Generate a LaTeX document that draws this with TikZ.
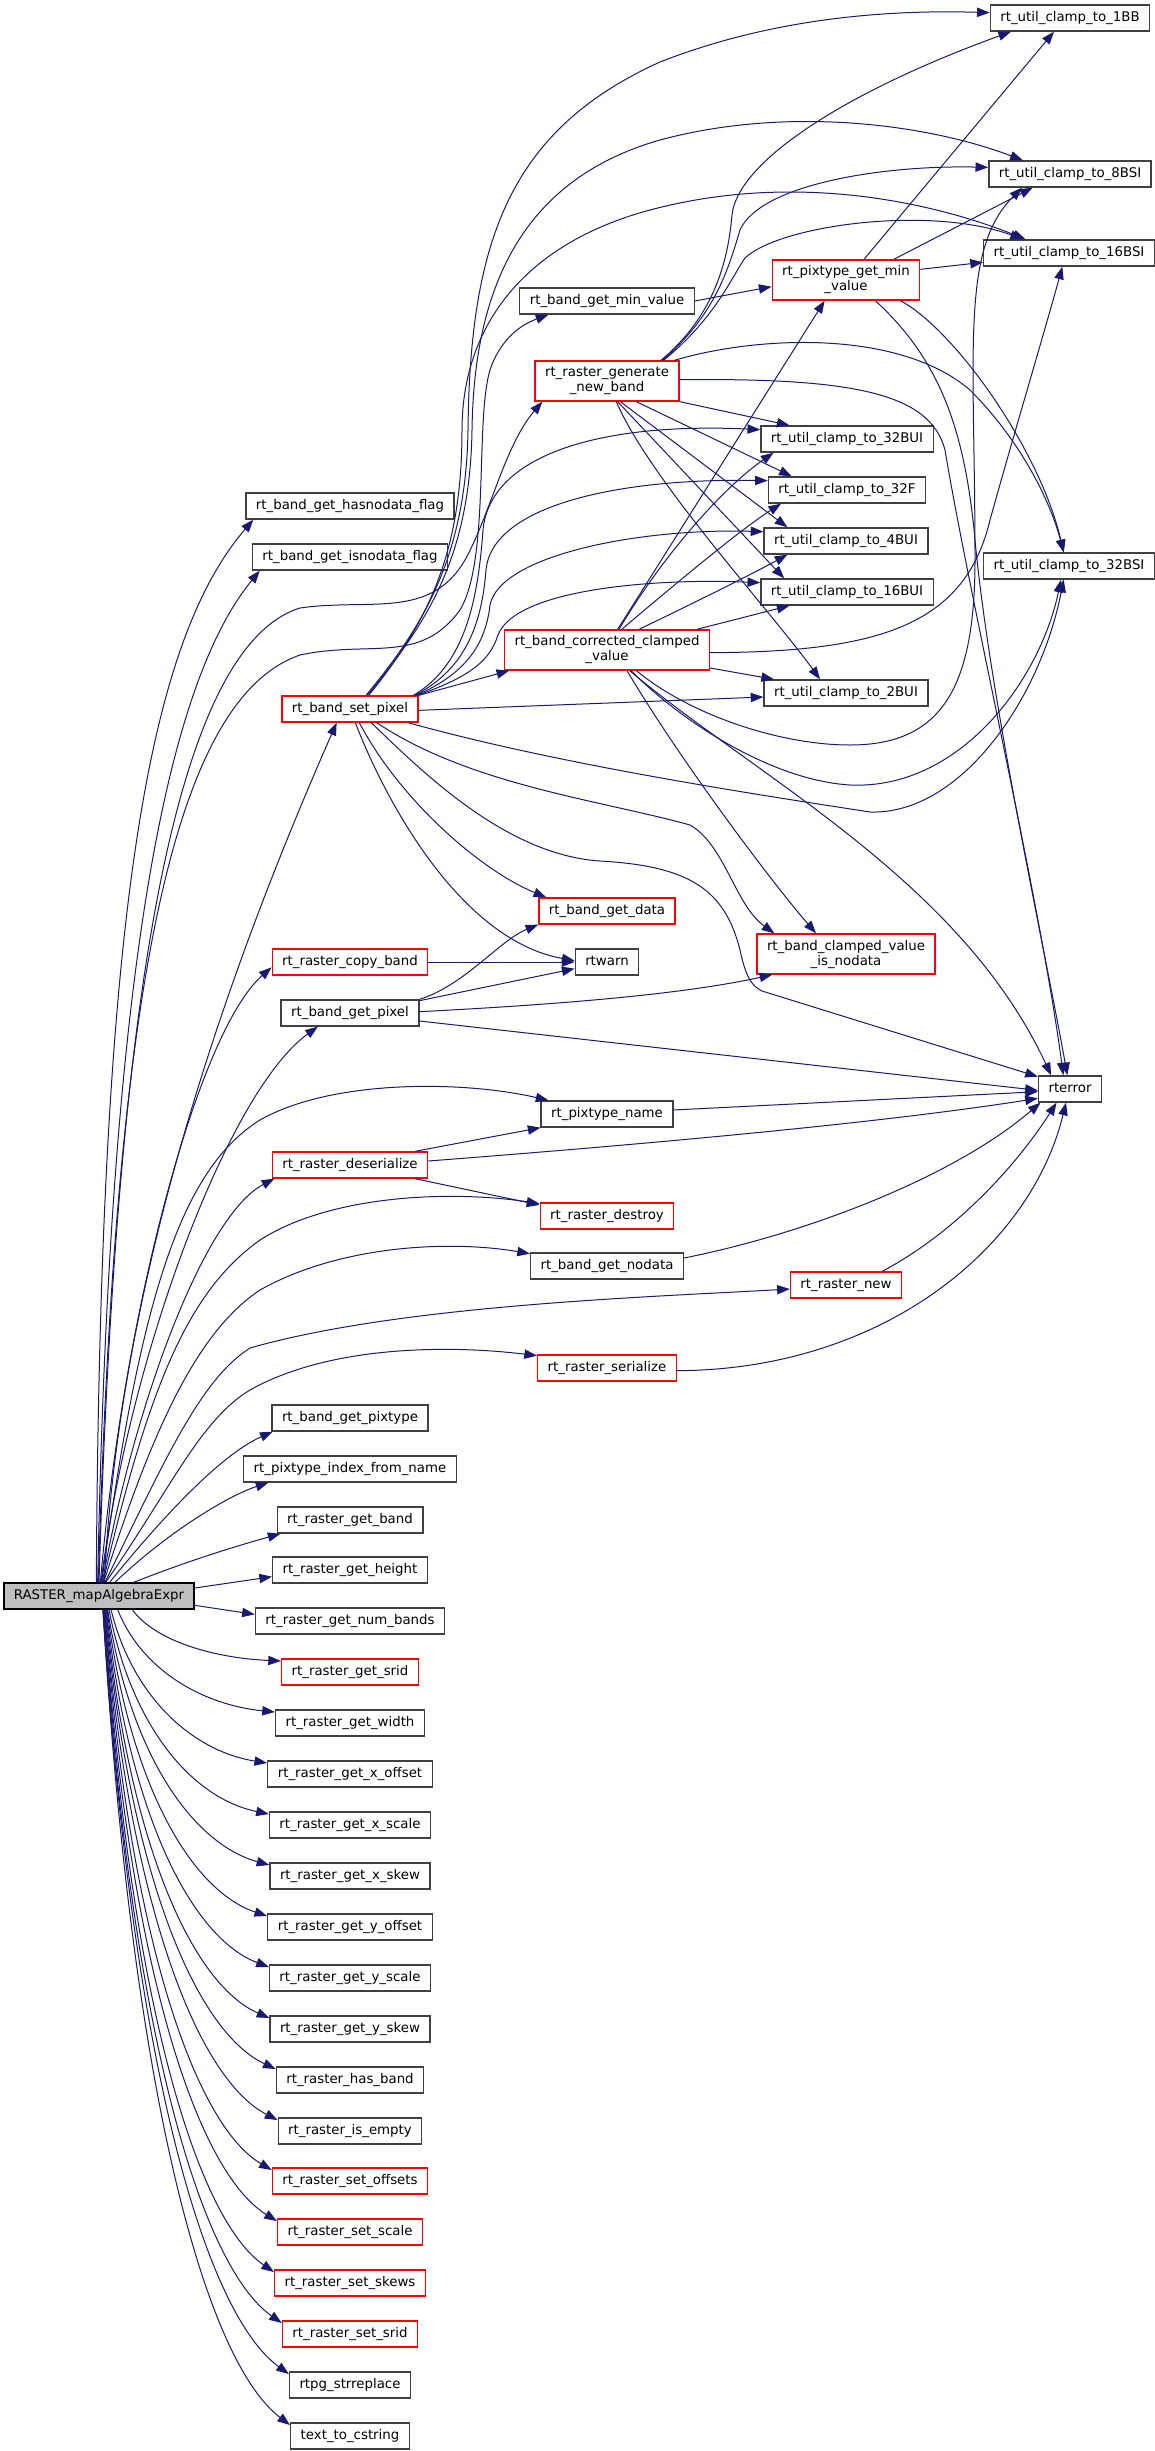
\documentclass[tikz,border=0pt]{standalone}
\usepackage{fontspec}
\setmainfont{DejaVu Sans}
\usetikzlibrary{arrows.meta}
\definecolor{callblue}{HTML}{191970}
\definecolor{boxgrey}{HTML}{404040}
\definecolor{rootgrey}{HTML}{BFBFBF}

\begin{document}
\begin{tikzpicture}[x=0.75pt,y=-0.75pt,
  box/.style={draw=boxgrey,line width=1pt,fill=white,inner xsep=7.5pt,inner ysep=0pt,font=\fontsize{10pt}{11.25pt}\selectfont},
  fn/.style={box,minimum height=19.5pt,text height=7.6pt,text depth=2.4pt},
  fnred/.style={fn,draw=red},
  fntwo/.style={box,draw=red,align=center,minimum height=30pt},
  root/.style={fn,draw=black,fill=rootgrey},
  call/.style={draw=callblue,line width=0.75pt,-{Triangle[length=9.5pt,width=7pt]}}]
    \path[use as bounding box,fill=white] (0,0) rectangle (1155,2451);
    \node[fn] (c1bb) at (1070,18) {rt\_util\_clamp\_to\_1BB};
    \node[fn] (c8bsi) at (1070,174) {rt\_util\_clamp\_to\_8BSI};
    \node[fn] (c16bsi) at (1069,253) {rt\_util\_clamp\_to\_16BSI};
    \node[fntwo] (ptmin) at (846,280) {rt\_pixtype\_get\_min\\\_value};
    \node[fn] (minval) at (607,301) {rt\_band\_get\_min\_value};
    \node[fntwo] (gennew) at (607,381) {rt\_raster\_generate\\\_new\_band};
    \node[fn] (c32bui) at (847,439) {rt\_util\_clamp\_to\_32BUI};
    \node[fn] (c32f) at (847,490) {rt\_util\_clamp\_to\_32F};
    \node[fn] (c4bui) at (846,541) {rt\_util\_clamp\_to\_4BUI};
    \node[fn] (c32bsi) at (1069,566) {rt\_util\_clamp\_to\_32BSI};
    \node[fn] (c16bui) at (847,592) {rt\_util\_clamp\_to\_16BUI};
    \node[fn] (hasnd) at (350,506) {rt\_band\_get\_hasnodata\_flag};
    \node[fn] (isnd) at (350,557) {rt\_band\_get\_isnodata\_flag};
    \node[fntwo] (corr) at (607,650) {rt\_band\_corrected\_clamped\\\_value};
    \node[fn] (c2bui) at (846,693) {rt\_util\_clamp\_to\_2BUI};
    \node[fnred] (setpix) at (350,709) {rt\_band\_set\_pixel};
    \node[fnred] (getdata) at (607,911) {rt\_band\_get\_data};
    \node[fntwo] (clampnd) at (846,954) {rt\_band\_clamped\_value\\\_is\_nodata};
    \node[fnred] (copyb) at (350,962) {rt\_raster\_copy\_band};
    \node[fn] (rtwarn) at (607,962) {rtwarn};
    \node[fn] (getpix) at (350,1013) {rt\_band\_get\_pixel};
    \node[fn] (rterror) at (1070,1089) {rterror};
    \node[fn] (ptname) at (607,1114) {rt\_pixtype\_name};
    \node[fnred] (deser) at (350,1165) {rt\_raster\_deserialize};
    \node[fnred] (destroy) at (607,1216) {rt\_raster\_destroy};
    \node[fn] (getnodata) at (607,1266) {rt\_band\_get\_nodata};
    \node[fnred] (rnew) at (846,1285) {rt\_raster\_new};
    \node[fnred] (serial) at (607,1368) {rt\_raster\_serialize};
    \node[fn] (gptype) at (350,1418) {rt\_band\_get\_pixtype};
    \node[fn] (ptidx) at (350,1469) {rt\_pixtype\_index\_from\_name};
    \node[fn] (getband) at (350,1520) {rt\_raster\_get\_band};
    \node[fn] (geth) at (350,1570) {rt\_raster\_get\_height};
    \node[root] (R) at (99,1596) {RASTER\_mapAlgebraExpr};
    \node[fn] (nbands) at (350,1621) {rt\_raster\_get\_num\_bands};
    \node[fnred] (srid) at (350,1672) {rt\_raster\_get\_srid};
    \node[fn] (width) at (350,1723) {rt\_raster\_get\_width};
    \node[fn] (xoff) at (350,1774) {rt\_raster\_get\_x\_offset};
    \node[fn] (xscale) at (350,1825) {rt\_raster\_get\_x\_scale};
    \node[fn] (xskew) at (350,1876) {rt\_raster\_get\_x\_skew};
    \node[fn] (yoff) at (350,1927) {rt\_raster\_get\_y\_offset};
    \node[fn] (yscale) at (350,1978) {rt\_raster\_get\_y\_scale};
    \node[fn] (yskew) at (350,2029) {rt\_raster\_get\_y\_skew};
    \node[fn] (hasband) at (350,2080) {rt\_raster\_has\_band};
    \node[fn] (empty) at (350,2131) {rt\_raster\_is\_empty};
    \node[fnred] (setoff) at (350,2181) {rt\_raster\_set\_offsets};
    \node[fnred] (setscale) at (350,2232) {rt\_raster\_set\_scale};
    \node[fnred] (setskew) at (350,2283) {rt\_raster\_set\_skews};
    \node[fnred] (setsrid) at (350,2334) {rt\_raster\_set\_srid};
    \node[fn] (strrep) at (350,2385) {rtpg\_strreplace};
    \node[fn] (tocstr) at (350,2436) {text\_to\_cstring};

    \draw[call] ([xshift=-2pt]R.north) .. controls (100,900) and (150,640) .. ([xshift=6pt]hasnd.south west);
    \draw[call] ([xshift=-1pt]R.north) .. controls (110,950) and (170,680) .. ([xshift=6pt]isnd.south west);
    \draw[call] ([xshift=-0.5pt]R.north) .. controls (115,1000) and (170,700) .. (300,655) .. controls (370,640) and (420,665) .. (460,610) .. controls (490,560) and (475,420) .. (490,370) .. controls (500,340) and (520,325) .. ([xshift=22pt]minval.south west);
    \draw[call] (R.north) .. controls (115,1050) and (165,650) .. (300,608) .. controls (370,598) and (430,620) .. (465,560) .. controls (490,515) and (505,445) .. ([xshift=6pt]gennew.south west);
    \draw[call] ([xshift=4pt]R.north) .. controls (120,1250) and (250,920) .. ([xshift=-10pt]setpix.south);
    \draw[call] ([xshift=1pt]R.north) .. controls (125,1300) and (200,1030) .. ([yshift=-4pt]copyb.west);
    \draw[call] ([xshift=1.5pt]R.north) .. controls (130,1350) and (230,1090) .. ([xshift=28pt]getpix.south west);
    \draw[call] ([xshift=2pt]R.north) .. controls (140,1300) and (180,1170) .. (260,1120) .. controls (330,1080) and (460,1080) .. ([xshift=6pt]ptname.north west);
    \draw[call] ([xshift=2.5pt]R.north) .. controls (135,1400) and (205,1215) .. ([xshift=2pt]deser.south west);
    \draw[call] ([xshift=3pt]R.north) .. controls (150,1380) and (190,1290) .. (260,1240) .. controls (330,1195) and (450,1190) .. ([yshift=-1pt]destroy.north west);
    \draw[call] ([xshift=3.5pt]R.north) .. controls (155,1420) and (200,1330) .. (260,1290) .. controls (340,1245) and (450,1240) .. ([yshift=-1pt]getnodata.north west);
    \draw[call] ([xshift=4.5pt]R.north) .. controls (165,1460) and (200,1380) .. (250,1348) .. controls (400,1305) and (650,1297) .. ([yshift=-3pt]rnew.west);
    \draw[call] ([xshift=5pt]R.north) .. controls (170,1490) and (200,1420) .. (250,1390) .. controls (330,1345) and (450,1345) .. ([yshift=-1pt]serial.north west);
    \draw[call] ([xshift=8pt]R.north) .. controls (160,1520) and (220,1455) .. ([xshift=1pt]gptype.south west);
    \draw[call] ([xshift=12pt]R.north) .. controls (170,1530) and (230,1495) .. ([xshift=19pt]ptidx.south west);
    \draw[call] ([xshift=26pt]R.north) .. controls (190,1560) and (240,1545) .. ([xshift=3pt]getband.south west);
    \draw[call] ([yshift=6pt]R.east) -- ([yshift=-5pt]geth.west);
    \draw[call] ([yshift=-7pt]R.east) -- ([yshift=5pt]nbands.west);
    \draw[call] ([xshift=25pt]R.south) .. controls (155,1641) and (214,1658) .. ([yshift=-2pt]srid.north west);
    \draw[call] ([xshift=14pt]R.south) .. controls (142,1671) and (204,1705) .. ([yshift=-2pt]width.north west);
    \draw[call] ([xshift=9pt]R.south) .. controls (134,1702) and (197,1752) .. ([yshift=-2pt]xoff.north west);
    \draw[call] ([xshift=7.5pt]R.south) .. controls (133,1733) and (196,1799) .. ([yshift=-2pt]xscale.north west);
    \draw[call] ([xshift=6.5pt]R.south) .. controls (132,1763) and (197,1845) .. ([yshift=-2pt]xskew.north west);
    \draw[call] ([xshift=6pt]R.south) .. controls (131,1794) and (195,1892) .. ([yshift=-2pt]yoff.north west);
    \draw[call] ([xshift=5.5pt]R.south) .. controls (130,1824) and (195,1939) .. ([yshift=-2pt]yscale.north west);
    \draw[call] ([xshift=5pt]R.south) .. controls (130,1855) and (196,1986) .. ([yshift=-2pt]yskew.north west);
    \draw[call] ([xshift=4.5pt]R.south) .. controls (131,1886) and (199,2033) .. ([yshift=-2pt]hasband.north west);
    \draw[call] ([xshift=4pt]R.south) .. controls (131,1916) and (200,2080) .. ([yshift=-2pt]empty.north west);
    \draw[call] ([xshift=4pt]R.south) .. controls (130,1946) and (197,2126) .. ([yshift=-2pt]setoff.north west);
    \draw[call] ([xshift=3.5pt]R.south) .. controls (130,1977) and (199,2173) .. ([yshift=-2pt]setscale.north west);
    \draw[call] ([xshift=3.5pt]R.south) .. controls (130,2007) and (198,2220) .. ([yshift=-2pt]setskew.north west);
    \draw[call] ([xshift=3pt]R.south) .. controls (131,2038) and (202,2267) .. ([yshift=-2pt]setsrid.north west);
    \draw[call] ([xshift=3pt]R.south) .. controls (132,2069) and (206,2314) .. ([yshift=-2pt]strrep.north west);
    \draw[call] ([xshift=3pt]R.south) .. controls (132,2099) and (206,2361) .. ([yshift=-2pt]tocstr.north west);

    \draw[call] ([xshift=12pt]setpix.north) .. controls (420,630) and (466,560) .. (468,430) .. controls (470,240) and (510,130) .. (660,62) .. controls (780,15) and (900,10) .. ([yshift=4pt]c1bb.west);
    \draw[call] ([xshift=13pt]setpix.north) .. controls (425,625) and (470,560) .. (472,430) .. controls (474,290) and (520,180) .. (660,140) .. controls (790,105) and (930,125) .. ([xshift=26pt]c8bsi.north west);
    \draw[call] ([xshift=14pt]setpix.north) .. controls (430,620) and (462,550) .. (462,430) .. controls (462,330) and (520,245) .. (650,210) .. controls (800,170) and (940,205) .. ([xshift=32pt]c16bsi.north west);
    \draw[call] ([xshift=-4pt]setpix.north east) .. controls (465,665) and (478,600) .. (483,530) .. controls (490,455) and (600,422) .. ([yshift=7pt]c32bui.west);
    \draw[call] ([xshift=-3pt]setpix.north east) .. controls (468,668) and (482,620) .. (486,570) .. controls (492,505) and (620,478) .. ([yshift=7pt]c32f.west);
    \draw[call] ([xshift=-2pt]setpix.north east) .. controls (470,672) and (486,640) .. (490,605) .. controls (500,555) and (640,528) .. ([yshift=7pt]c4bui.west);
    \draw[call] ([xshift=-1pt]setpix.north east) .. controls (472,676) and (490,660) .. (498,635) .. controls (515,590) and (650,578) .. ([yshift=7pt]c16bui.west);
    \draw[call] (setpix.north east) -- ([xshift=4pt]corr.south west);
    \draw[call] ([yshift=-1pt]setpix.east) -- ([yshift=-3pt]c2bui.west);
    \draw[call] ([xshift=-8pt]setpix.south east) .. controls (560,765) and (760,795) .. (870,812) .. controls (960,815) and (1040,700) .. ([xshift=-4pt]c32bsi.south);
    \draw[call] ([xshift=7pt]setpix.south) .. controls (400,800) and (480,870) .. ([xshift=6pt]getdata.north west);
    \draw[call] ([xshift=4pt]setpix.south) .. controls (385,800) and (460,940) .. ([yshift=1pt]rtwarn.west);
    \draw[call] ([xshift=16pt]setpix.south) .. controls (430,780) and (510,855) .. (600,861) .. controls (690,866) and (725,890) .. (740,950) .. controls (746,978) and (752,986) .. (762,991) -- ([yshift=-1pt]rterror.north west);
    \draw[call] ([xshift=20pt]setpix.south) .. controls (470,785) and (600,800) .. (690,825) .. controls (725,845) and (735,905) .. ([xshift=13.5pt]clampnd.north west);

    \draw[call] ([xshift=-14pt]gennew.north east) .. controls (715,315) and (728,260) .. (732,215) .. controls (738,160) and (850,90) .. ([xshift=16pt]c1bb.south west);
    \draw[call] ([xshift=-13pt]gennew.north east) .. controls (715,315) and (728,270) .. (740,230) .. controls (760,185) and (880,165) .. ([yshift=5pt]c8bsi.west);
    \draw[call] ([xshift=-12pt]gennew.north east) .. controls (715,318) and (730,280) .. (745,258) .. controls (780,225) and (930,205) .. ([xshift=30pt]c16bsi.north west);
    \draw[call] ([xshift=-4pt]gennew.north east) .. controls (760,335) and (900,330) .. (970,390) .. controls (1020,440) and (1050,500) .. ([xshift=-4pt]c32bsi.north);
    \draw[call] ([yshift=1pt]gennew.east) .. controls (850,378) and (930,392) .. (945,450) .. controls (970,600) and (1040,900) .. ([xshift=-5pt]rterror.north);
    \draw[call] (gennew.south east) -- ([xshift=22pt]c32bui.north west);
    \draw[call] ([xshift=22pt]gennew.south) -- ([xshift=18pt]c32f.north west);
    \draw[call] ([xshift=10pt]gennew.south) -- ([xshift=18pt]c4bui.north west);
    \draw[call] ([xshift=8pt]gennew.south) -- ([xshift=18pt]c16bui.north west);
    \draw[call] ([xshift=7pt]gennew.south) .. controls (650,480) and (770,610) .. ([xshift=-19.5pt]c2bui.north);

    \draw[call] (minval.east) -- ([yshift=-5pt]ptmin.west);
    \draw[call] ([xshift=13.5pt]ptmin.north) -- ([xshift=-12pt]c1bb.south);
    \draw[call] ([xshift=-20pt]ptmin.north east) -- ([xshift=-28pt]c8bsi.south);
    \draw[call] ([yshift=8pt]ptmin.east) -- ([yshift=-7pt]c16bsi.west);
    \draw[call] ([xshift=-15pt]ptmin.south east) .. controls (955,330) and (1040,450) .. ([xshift=-4pt]c32bsi.north);
    \draw[call] ([xshift=22pt]ptmin.south) .. controls (940,360) and (965,430) .. (975,540) .. controls (990,700) and (1045,950) .. ([xshift=-2pt]rterror.north);

    \draw[call] ([xshift=8pt]corr.north) -- ([xshift=-16pt]ptmin.south);
    \draw[call] ([xshift=9pt]corr.north) .. controls (660,560) and (720,490) .. ([xshift=10pt]c32bui.south west);
    \draw[call] ([xshift=11pt]corr.north) .. controls (680,580) and (740,530) .. ([xshift=10pt]c32f.south west);
    \draw[call] ([xshift=24pt]corr.north) .. controls (700,600) and (750,575) .. ([xshift=18pt]c4bui.south west);
    \draw[call] ([xshift=-10pt]corr.north east) -- ([xshift=22pt]c16bui.south west);
    \draw[call] ([yshift=2pt]corr.south east) -- ([xshift=8pt]c2bui.north west);
    \draw[call] ([yshift=-2pt]corr.east) .. controls (880,652) and (965,625) .. (990,520) .. controls (1015,430) and (1045,330) .. ([xshift=-5pt]c16bsi.south);
    \draw[call] ([xshift=18pt]corr.south) .. controls (680,720) and (770,780) .. (850,785) .. controls (960,790) and (1040,680) .. ([xshift=-6pt]c32bsi.south);
    \draw[call] ([xshift=22pt]corr.south) .. controls (690,715) and (780,745) .. (850,745) .. controls (940,745) and (975,690) .. (975,560) .. controls (975,350) and (960,250) .. ([xshift=-36pt]c8bsi.south);
    \draw[call] ([xshift=15pt]corr.south) .. controls (680,760) and (770,880) .. ([xshift=-22.5pt]clampnd.north);
    \draw[call] ([xshift=17pt]corr.south) .. controls (760,780) and (960,880) .. ([xshift=10pt]rterror.north west);

    \draw[call] (getpix.north east) .. controls (465,985) and (500,940) .. (getdata.south west);
    \draw[call] ([yshift=-1pt]getpix.north east) -- ([yshift=-5pt]rtwarn.west);
    \draw[call] ([yshift=1pt]getpix.east) .. controls (550,1005) and (680,995) .. ([xshift=12pt]clampnd.south west);
    \draw[call] ([yshift=-6pt]getpix.east) -- ([yshift=-1pt]rterror.west);
    \draw[call] (copyb.east) -- (rtwarn.west);
    \draw[call] ([xshift=-10pt]deser.north east) -- (ptname.south west);
    \draw[call] ([xshift=-10pt]deser.south east) -- ([yshift=-2pt]destroy.north west);
    \draw[call] ([yshift=3pt]deser.east) .. controls (700,1140) and (900,1120) .. ([yshift=-7pt]rterror.west);
    \draw[call] ([yshift=3pt]ptname.east) -- ([yshift=-2pt]rterror.west);
    \draw[call] ([yshift=6pt]getnodata.east) .. controls (800,1235) and (950,1180) .. ([xshift=2pt]rterror.south west);
    \draw[call] ([xshift=-15pt]rnew.north east) .. controls (960,1230) and (1020,1160) .. ([xshift=14pt]rterror.south west);
    \draw[call] ([yshift=-2pt]serial.east) .. controls (880,1370) and (1030,1250) .. ([xshift=-3pt]rterror.south);
\end{tikzpicture}
\end{document}
